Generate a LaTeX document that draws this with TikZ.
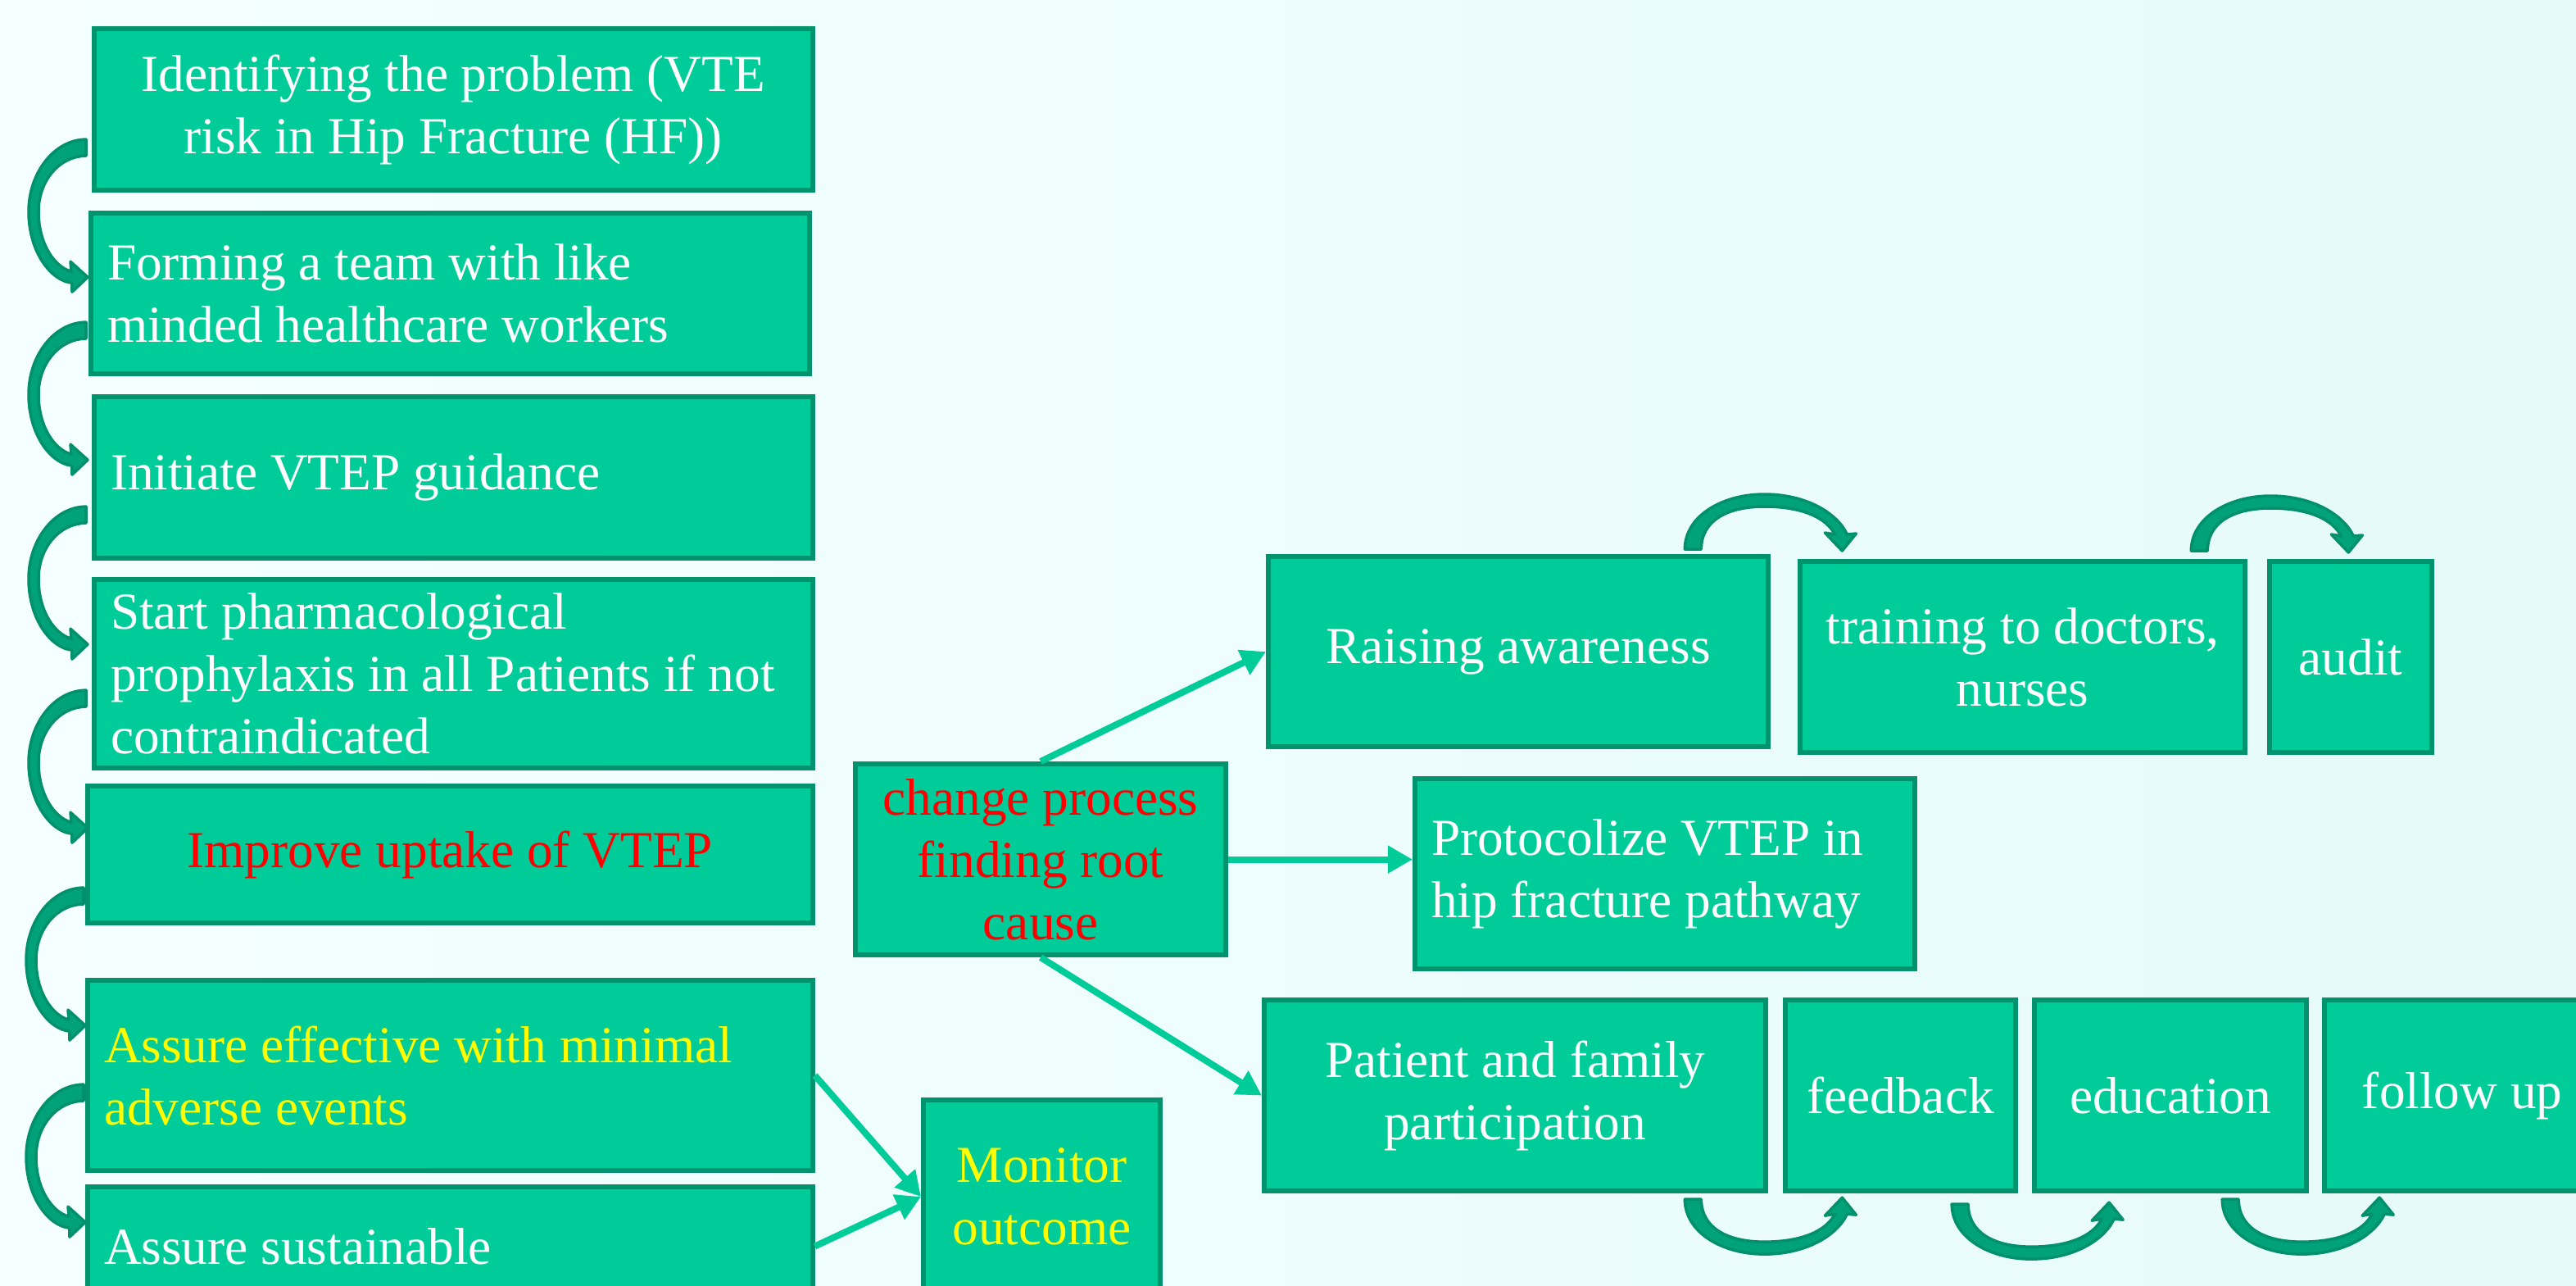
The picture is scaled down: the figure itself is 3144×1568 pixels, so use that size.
\documentclass[tikz,border=0pt]{standalone}
\usepackage{fontspec}
\setmainfont{Liberation Serif}
\usetikzlibrary{arrows.meta,calc}

\definecolor{boxfill}{HTML}{00CC99}
\definecolor{boxedge}{HTML}{00936E}
\definecolor{linkcol}{HTML}{00CC99}
\definecolor{curlfill}{HTML}{00A27A}
\definecolor{curledge}{HTML}{00906C}
\definecolor{txtred}{HTML}{FF0000}
\definecolor{txtyellow}{HTML}{FFFF00}
\definecolor{bgleft}{HTML}{F5FFFF}
\definecolor{bgright}{HTML}{E6FAFA}

\tikzset{
  box/.style={draw=boxedge, fill=boxfill, line width=0.06cm, anchor=north west,
    text=white, font=\fontsize{18}{21.6}\selectfont, align=center, inner sep=0pt},
  lbox/.style={box, align=flush left, inner xsep=0.2cm, text width=#1},
  link/.style={draw=linkcol, line width=0.08cm, -{Triangle[length=0.3cm,width=0.32cm]}},
  curl/.style={fill=curlfill, draw=curledge, line width=0.035cm, line join=round},
  % curved arrow on the left edge, running downwards from one box to the next
  sidecurl/.pic={
    \filldraw[curl] (0,-10) .. controls (-38,-10) and (-70,30) .. (-70,78)
      .. controls (-70,128) and (-42,163) .. (-17,165)
      -- (-17,176) -- (2,158) -- (-19,139) -- (-18,151)
      .. controls (-38,146) and (-58,118) .. (-58,78)
      .. controls (-58,40) and (-32,10) .. (0,10) -- cycle;
  },
  % arc over the top of two neighbouring boxes
  toparc/.pic={
    \filldraw[curl] (-10,0) .. controls (-10,-40) and (35,-67) .. (87,-67)
      .. controls (138,-67) and (176,-44) .. (188,-18)
      -- (199,-19) -- (182,2) -- (161,-20) -- (173,-18)
      .. controls (163,-38) and (134,-52) .. (87,-52)
      .. controls (42,-52) and (10,-35) .. (10,0) -- cycle;
  },
  % arc under the bottom of two neighbouring boxes
  botarc/.pic={
    \filldraw[curl] (-10,0) .. controls (-10,40) and (35,67) .. (87,67)
      .. controls (138,67) and (176,44) .. (188,18)
      -- (199,19) -- (182,-2) -- (161,20) -- (173,18)
      .. controls (163,38) and (134,52) .. (87,52)
      .. controls (42,52) and (10,35) .. (10,0) -- cycle;
  }
}

\begin{document}
\begin{tikzpicture}[x=0.01cm, y=-0.01cm]
\useasboundingbox (0,0) rectangle (3144,1568);
\clip (0,0) rectangle (3144,1568);
\shade[left color=bgleft, right color=bgright] (0,0) rectangle (3144,1568);

% left column: steps of the improvement cycle
\node[box, minimum width=8.76cm, minimum height=1.97cm] (ident) at (112,32)
  {Identifying the problem (VTE\\risk in Hip Fracture (HF))};
\node[lbox=8.36cm, minimum height=1.96cm] (team) at (108,257)
  {Forming a team with like\\minded healthcare workers};
\node[lbox=8.36cm, minimum height=1.97cm] (init) at (112,481)
  {Initiate VTEP guidance};
\node[lbox=8.36cm, minimum height=2.30cm] (start) at (112,704)
  {Start pharmacological\\prophylaxis in all Patients if not\\contraindicated};
\node[box, minimum width=8.84cm, minimum height=1.67cm, text=txtred] (improve) at (104,956)
  {Improve uptake of VTEP};
\node[lbox=8.44cm, minimum height=2.32cm, text=txtyellow] (effect) at (104,1193)
  {Assure effective with minimal\\adverse events};
\node[lbox=8.44cm, minimum height=1.45cm] (sustain) at (104,1445)
  {Assure sustainable};

% centre: root cause and monitoring
\node[box, minimum width=4.52cm, minimum height=2.33cm, text=txtred] (change) at (1041,929)
  {change process\\finding root\\cause};
\node[box, minimum width=2.89cm, minimum height=2.36cm, text=txtyellow] (monitor) at (1124,1339)
  {Monitor\\outcome};

% right: actions
\node[box, minimum width=6.10cm, minimum height=2.32cm] (raise) at (1545,676)
  {Raising awareness};
\node[box, minimum width=5.43cm, minimum height=2.33cm] (train) at (2194,682)
  {training to doctors,\\nurses};
\node[box, minimum width=1.98cm, minimum height=2.33cm] (audit) at (2767,682)
  {audit};
\node[lbox=5.70cm, minimum height=2.32cm] (proto) at (1724,947)
  {Protocolize VTEP in\\hip fracture pathway};
\node[box, minimum width=6.12cm, minimum height=2.33cm] (patient) at (1540,1217)
  {Patient and family\\participation};
\node[box, minimum width=2.81cm, minimum height=2.33cm] (feedback) at (2176,1217)
  {feedback};
\node[box, minimum width=3.32cm, minimum height=2.33cm] (education) at (2480,1217)
  {education};
\node[box, minimum width=3.36cm, minimum height=2.33cm] (follow) at (2834,1217)
  {follow up};

% straight connectors
\draw[link] (change.north) -- (raise.west);
\draw[link] (change.east) -- (change.east -| proto.west);
\draw[link] (change.south) -- (patient.west);
\draw[link] (effect.east) -- (monitor.west);
\draw[link] (sustain.east) -- (monitor.west);

% curved arrows down the left column
\pic at ($(ident.south west)+(-7,-55)$) {sidecurl};
\pic at ($(team.south west)+(-3,-56)$) {sidecurl};
\pic at ($(init.south west)+(-7,-56)$) {sidecurl};
\pic at ($(start.south west)+(-7,-88)$) {sidecurl};
\pic at ($(improve.south west)+(-2,-36)$) {sidecurl};
\pic at ($(effect.south west)+(-2,-98)$) {sidecurl};

% arcs between the action boxes
\pic at ($(raise.north east)+(-95,-6)$) {toparc};
\pic at ($(train.north east)+(-59,-10)$) {toparc};
\pic at ($(patient.south east)+(-92,7)$) {botarc};
\pic at ($(feedback.south east)+(-71,13)$) {botarc};
\pic at ($(education.south east)+(-96,7)$) {botarc};
\end{tikzpicture}
\end{document}
